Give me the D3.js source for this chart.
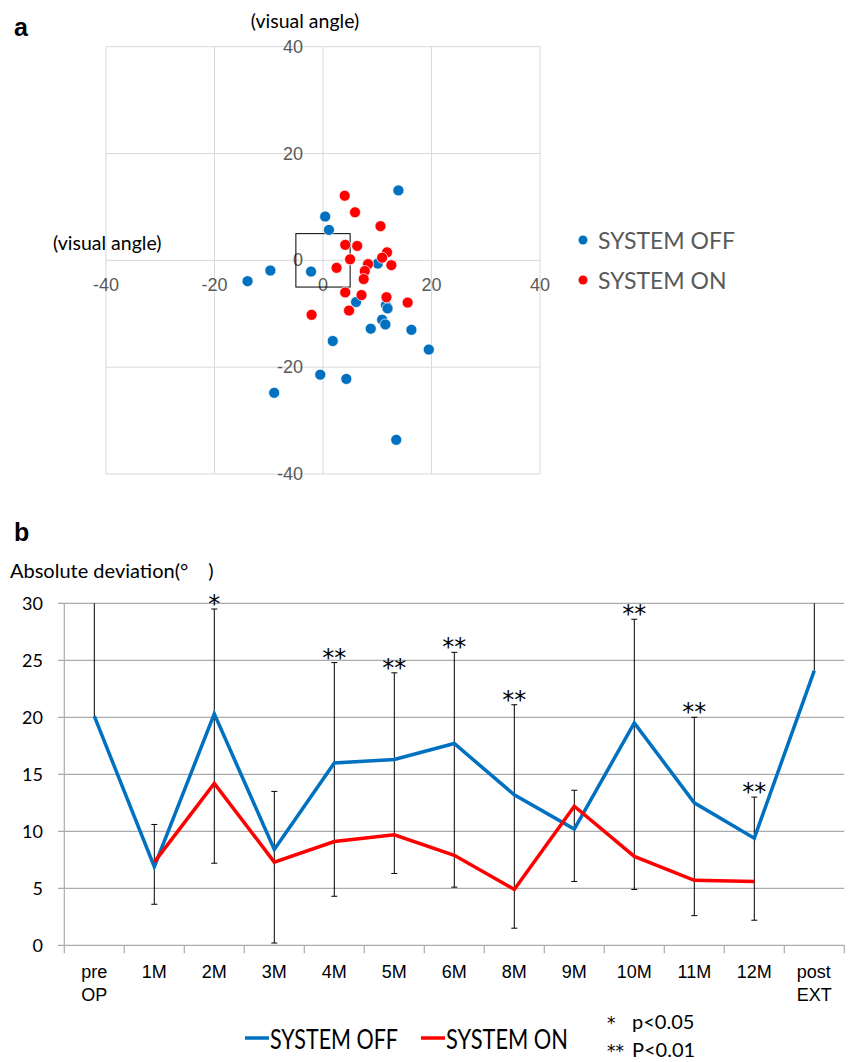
<!DOCTYPE html>
<html>
<head>
<meta charset="utf-8">
<script src="https://cdn.jsdelivr.net/npm/d3@7"></script>
<style>
  body { margin: 0; background: #fff; }
  svg { display: block; }
</style>
</head>
<body>
<svg id="fig" width="850" height="1062"></svg>
<script>
// ---- panel a: fixation points (visual angle, degrees) ----
const offX = [13.9, 0.4, 1.1, 10.1, -9.7, -13.9, -2.2, 6.1, 11.6, 11.9, 10.9, 11.5, 8.8, 16.3, 1.8, 19.5, -0.5, 4.3, -9.0, 13.5];
const offY = [13.1, 8.2, 5.7, -0.6, -1.9, -3.9, -2.1, -7.8, -8.4, -9.0, -11.1, -12.0, -12.8, -13.0, -15.1, -16.7, -21.4, -22.2, -24.8, -33.6];
const onX = [4.0, 5.9, 10.6, 4.1, 6.3, 11.8, 10.9, 5.0, 8.3, 12.6, 2.5, 7.7, 7.5, 4.1, 7.1, 11.7, 15.6, 4.8, -2.1];
const onY = [12.1, 9.0, 6.4, 2.9, 2.7, 1.5, 0.5, 0.2, -0.7, -0.9, -1.4, -2.0, -3.5, -6.0, -6.5, -6.9, -7.9, -9.4, -10.2];
const angleTicks = [-40, -20, 0, 20, 40];

// ---- panel b: absolute deviation by visit ----
const visits = ['pre\nOP', '1M', '2M', '3M', '4M', '5M', '6M', '8M', '9M', '10M', '11M', '12M', 'post\nEXT'];
const devOff = [20.1, 6.9, 20.3, 8.4, 16.0, 16.3, 17.7, 13.2, 10.2, 19.5, 12.5, 9.4, 24.1];
const devOn = [null, 7.3, 14.2, 7.3, 9.1, 9.7, 7.9, 4.9, 12.2, 7.8, 5.7, 5.6, null];
const errHi = [31.5, 10.6, 29.5, 13.5, 24.8, 23.9, 25.7, 21.1, 13.6, 28.6, 20.0, 13.0, 32.0];
const errLo = [null, 3.6, 7.2, 0.2, 4.3, 6.3, 5.1, 1.5, 5.6, 4.9, 2.6, 2.2, null];
const sig = ['', '', '*', '', '**', '**', '**', '**', '', '**', '**', '**', ''];
const devTicks = [0, 5, 10, 15, 20, 25, 30];

const BLUE = '#0070C0';
const RED = '#FF0000';
const calibri = 'Lato, "Open Sans", sans-serif';
const arial = '"Liberation Sans", Arial, sans-serif';
const starFont = '"DejaVu Sans", sans-serif';

const svg = d3.select('#fig');

// panel letters
svg.append('text').attr('x', 14).attr('y', 36)
  .style('font-family', arial).style('font-weight', 'bold').style('font-size', '25px').text('a');
svg.append('text').attr('x', 14).attr('y', 541)
  .style('font-family', arial).style('font-weight', 'bold').style('font-size', '25px').text('b');

// ================= panel a =================
const sx = d3.scaleLinear().domain([-40, 40]).range([106, 540]);
const sy = d3.scaleLinear().domain([-40, 40]).range([474, 46.7]);

const gA = svg.append('g');

gA.selectAll('line.vgrid').data(angleTicks).enter().append('line')
  .attr('x1', d => sx(d)).attr('x2', d => sx(d))
  .attr('y1', sy(40)).attr('y2', sy(-40))
  .attr('stroke', '#D9D9D9').attr('stroke-width', 1);
gA.selectAll('line.hgrid').data(angleTicks).enter().append('line')
  .attr('x1', sx(-40)).attr('x2', sx(40))
  .attr('y1', d => sy(d)).attr('y2', d => sy(d))
  .attr('stroke', '#D9D9D9').attr('stroke-width', 1);

// tick labels
gA.selectAll('text.xt').data(angleTicks).enter().append('text')
  .attr('x', d => sx(d)).attr('y', sy(0) + 25)
  .attr('text-anchor', 'middle').attr('dominant-baseline', 'central')
  .style('font-family', arial).style('font-size', '18px').style('fill', '#595959')
  .text(d => d);
gA.selectAll('text.yt').data(angleTicks).enter().append('text')
  .attr('x', sx(0) - 20).attr('y', d => sy(d))
  .attr('text-anchor', 'end').attr('dominant-baseline', 'central')
  .style('font-family', arial).style('font-size', '18px').style('fill', '#595959')
  .text(d => d);

// central 5-degree box
gA.append('rect')
  .attr('x', sx(-5)).attr('y', sy(5))
  .attr('width', sx(5) - sx(-5)).attr('height', sy(-5) - sy(5))
  .attr('fill', 'none').attr('stroke', '#000').attr('stroke-width', 1);

// axis titles
gA.append('text').attr('x', 305).attr('y', 20).attr('text-anchor', 'middle').attr('dominant-baseline', 'central')
  .style('font-family', calibri).style('font-size', '19.5px').text('(visual angle)');
gA.append('text').attr('x', 53).attr('y', 242).attr('dominant-baseline', 'central')
  .style('font-family', calibri).style('font-size', '19.5px').text('(visual angle)');

const offPts = offX.map((x, i) => ({ x, y: offY[i] }));
const onPts = onX.map((x, i) => ({ x, y: onY[i] }));

gA.selectAll('circle.off').data(offPts).enter().append('circle')
  .attr('cx', d => sx(d.x)).attr('cy', d => sy(d.y)).attr('r', 5.5)
  .attr('fill', BLUE).attr('stroke', '#fff').attr('stroke-width', 0.7);
gA.selectAll('circle.on').data(onPts).enter().append('circle')
  .attr('cx', d => sx(d.x)).attr('cy', d => sy(d.y)).attr('r', 5.5)
  .attr('fill', RED).attr('stroke', '#fff').attr('stroke-width', 0.7);

// legend a
const legA = gA.append('g').attr('transform', 'translate(583, 240)');
[{ label: 'SYSTEM OFF', color: BLUE }, { label: 'SYSTEM ON', color: RED }].forEach((d, i) => {
  legA.append('circle').attr('cx', 0).attr('cy', i * 40).attr('r', 4.5).attr('fill', d.color);
  legA.append('text').attr('x', 15).attr('y', i * 40).attr('dominant-baseline', 'central')
    .style('font-family', calibri).style('font-size', '23px').style('fill', '#595959').text(d.label);
});

// ================= panel b =================
const bx = d3.scaleBand().domain(visits).range([64.3, 844.3]);
const by = d3.scaleLinear().domain([0, 30]).range([945.3, 603.3]);
const cx = d => bx(d) + bx.bandwidth() / 2;
const gridColor = '#ABABAB';

const gB = svg.append('g');

gB.selectAll('line.grid').data(devTicks).enter().append('line')
  .attr('x1', 58).attr('x2', 844.3)
  .attr('y1', d => by(d)).attr('y2', d => by(d))
  .attr('stroke', gridColor).attr('stroke-width', 1.2);
gB.append('line').attr('x1', 64.3).attr('x2', 64.3).attr('y1', by(30)).attr('y2', by(0))
  .attr('stroke', gridColor).attr('stroke-width', 1.2);

// category boundary ticks
const bounds = visits.map(v => bx(v)).concat([bx.range()[1]]);
gB.selectAll('line.xtick').data(bounds).enter().append('line')
  .attr('x1', d => d).attr('x2', d => d)
  .attr('y1', by(0)).attr('y2', by(0) + 8)
  .attr('stroke', gridColor).attr('stroke-width', 1.2);

gB.selectAll('text.yt').data(devTicks).enter().append('text')
  .attr('x', 43).attr('y', d => by(d)).attr('text-anchor', 'end').attr('dominant-baseline', 'central')
  .style('font-family', calibri).style('font-size', '18px').text(d => d);

// x labels (multi-line labels left-aligned, block centred)
visits.forEach(v => {
  const lines = v.split('\n');
  const t = gB.append('text')
    .style('font-family', arial).style('font-size', '18px');
  lines.forEach((ln, j) => {
    t.append('tspan').attr('y', 978 + j * 23).text(ln);
  });
  const widths = [];
  t.selectAll('tspan').each(function () { widths.push(this.getComputedTextLength()); });
  const w = d3.max(widths);
  t.selectAll('tspan').attr('x', cx(v) - w / 2);
});

// y label
gB.append('text').attr('x', 10).attr('y', 570).attr('dominant-baseline', 'central')
  .style('font-family', calibri).style('font-size', '20px').text('Absolute deviation(°\u3000)');

// error bars (clipped to the plot)
const clipY = v => by(Math.min(30, Math.max(0, v)));
const capW = 3;
visits.forEach((v, i) => {
  const lo = errLo[i] == null ? devOff[i] : errLo[i];
  const hi = errHi[i];
  const x = cx(v);
  gB.append('line').attr('x1', x).attr('x2', x).attr('y1', clipY(lo)).attr('y2', clipY(hi))
    .attr('stroke', '#000').attr('stroke-width', 1);
  if (hi <= 30) {
    gB.append('line').attr('x1', x - capW).attr('x2', x + capW).attr('y1', by(hi)).attr('y2', by(hi))
      .attr('stroke', '#000').attr('stroke-width', 1);
  }
  if (errLo[i] != null) {
    gB.append('line').attr('x1', x - capW).attr('x2', x + capW).attr('y1', by(lo)).attr('y2', by(lo))
      .attr('stroke', '#000').attr('stroke-width', 1);
  }
  if (sig[i]) {
    gB.append('text').attr('x', x).attr('y', by(Math.min(hi, 30)) + 3)
      .attr('text-anchor', 'middle')
      .style('font-family', starFont).style('font-size', '24px')
      .text(sig[i]);
  }
});

// series lines
const line = d3.line()
  .defined(d => d.y != null)
  .x(d => cx(d.x)).y(d => by(d.y));
gB.append('path').datum(visits.map((v, i) => ({ x: v, y: devOff[i] })))
  .attr('d', line).attr('fill', 'none').attr('stroke', BLUE).attr('stroke-width', 3.5)
  .attr('stroke-linejoin', 'miter');
gB.append('path').datum(visits.map((v, i) => ({ x: v, y: devOn[i] })))
  .attr('d', line).attr('fill', 'none').attr('stroke', RED).attr('stroke-width', 3.5);

// legend b
const legB = svg.append('g');
[{ label: 'SYSTEM OFF', color: BLUE, x: 245, w: 128 }, { label: 'SYSTEM ON', color: RED, x: 421, w: 122 }].forEach(d => {
  legB.append('line').attr('x1', d.x).attr('x2', d.x + 24).attr('y1', 1038).attr('y2', 1038)
    .attr('stroke', d.color).attr('stroke-width', 3.5);
  legB.append('text').attr('x', d.x + 25).attr('y', 1038).attr('dominant-baseline', 'central')
    .attr('textLength', d.w).attr('lengthAdjust', 'spacingAndGlyphs')
    .style('font-family', calibri).style('font-size', '27px').text(d.label);
});
[{ s: '*', p: 'p<0.05', y: 1021 }, { s: '**', p: 'P<0.01', y: 1049 }].forEach(d => {
  legB.append('text').attr('x', 607).attr('y', d.y + 8)
    .style('font-family', starFont).style('font-size', '17px').text(d.s);
  legB.append('text').attr('x', 632).attr('y', d.y).attr('dominant-baseline', 'central')
    .style('font-family', calibri).style('font-size', '20px').text(d.p);
});
</script>
</body>
</html>
